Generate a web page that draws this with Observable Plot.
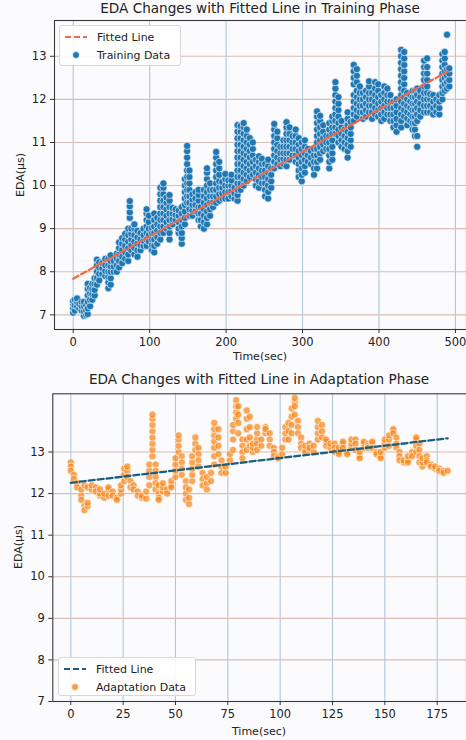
<!DOCTYPE html>
<html>
<head>
<meta charset="utf-8">
<script src="https://cdn.jsdelivr.net/npm/d3@7"></script>
<script src="https://cdn.jsdelivr.net/npm/@observablehq/plot@0.6"></script>
<style>
  html, body { margin: 0; padding: 0; background: #fbfbfd; }
  body { width: 466px; height: 740px; overflow: hidden; font-family: "DejaVu Sans", sans-serif; color: #222; }
  #wrap { position: relative; width: 466px; height: 740px; }
  .panel { position: absolute; left: 0; width: 466px; height: 370px; }
  .txt { position: absolute; white-space: nowrap; color: #222; }
  .title { font-size: 13.6px; line-height: 16px; text-align: center; }
  .xlab { font-size: 11px; text-align: center; }
  .ylab { font-size: 11px; transform: translate(-50%, -50%) rotate(-90deg); }
  .legend { position: absolute; border: 1px solid #d8d8d8; border-radius: 3px; background: rgba(255,255,255,0.85); font-size: 11px; }
  .legend .row { display: flex; align-items: center; height: 18px; }
  .legend svg { margin-left: 4px; margin-right: 9px; }
</style>
</head>
<body>
<div id="wrap"></div>
<script>
// ---------------- DATA ----------------
// Training phase: [time (sec), EDA values observed at that time]
const trainStreaks = [
  [0,[7.05,7.15,7.25,7.32]],
  [2,[7.1,7.22,7.35]],
  [5,[7.2,7.3,7.38]],
  [8,[7.15,7.25]],
  [11,[7.1,7.2,7.3]],
  [14,[6.98,7.08,7.2,7.3]],
  [17,[7.0,7.1,7.22]],
  [19,[7.02,7.15,7.3,7.45,7.6,7.72]],
  [22,[7.2,7.35,7.5,7.62]],
  [25,[7.35,7.48,7.6,7.72]],
  [28,[7.45,7.58,7.72,7.85]],
  [31,[7.7,7.85,8.0,8.15,8.28]],
  [34,[7.8,7.95,8.1,8.22]],
  [38,[7.95,8.08,8.2]],
  [42,[7.9,8.02,8.15,8.3]],
  [46,[7.62,7.75,7.88,8.0,8.15,8.3]],
  [49,[7.7,7.85,8.0,8.12,8.25,8.38]],
  [53,[8.0,8.12,8.25]],
  [57,[8.0,8.15,8.3,8.42]],
  [60,[8.1,8.25,8.4,8.55,8.68]],
  [64,[8.2,8.35,8.5,8.65,8.78]],
  [68,[8.3,8.45,8.6,8.75,8.88]],
  [72,[8.25,8.4,8.55,8.7,8.85,9.0]],
  [74,[9.25,9.38,9.52,9.64]],
  [76,[8.5,8.62,8.75,8.88,9.0]],
  [80,[8.4,8.55,8.7,8.85,9.0,9.1]],
  [84,[8.35,8.5,8.65,8.8,8.95]],
  [88,[8.5,8.62,8.75,8.9]],
  [92,[8.6,8.72,8.85,9.0]],
  [96,[8.6,8.75,8.9,9.05,9.2,9.35,9.45]],
  [99,[8.7,8.85,9.0,9.15,9.3]],
  [103,[8.5,8.62,8.75,8.9,9.02]],
  [106,[8.45,8.6,8.75,8.9,9.05,9.2,9.35]],
  [110,[8.65,8.8,8.95,9.1,9.25]],
  [114,[8.75,8.9,9.05,9.2,9.35,9.5,9.65,9.8,9.95]],
  [118,[8.9,9.05,9.2,9.35,9.5,9.65,9.8,9.95,10.05]],
  [122,[9.0,9.15,9.3,9.45,9.6,9.72]],
  [126,[8.75,8.9,9.05,9.2,9.35,9.5,9.65,9.78]],
  [130,[9.1,9.22,9.35,9.48]],
  [134,[9.2,9.32,9.45]],
  [138,[8.9,9.0,9.15,9.3,9.42]],
  [142,[8.65,8.78,8.9,9.05,9.2,9.35,9.5]],
  [146,[9.1,9.25,9.4,9.55,9.7,9.85,10.0,10.15]],
  [149,[9.6,9.75,9.9,10.05,10.2,10.35,10.5,10.65,10.8,10.92]],
  [152,[9.3,9.45,9.6,9.75,9.9,10.05,10.2,10.35]],
  [156,[9.3,9.42,9.55,9.68,9.8]],
  [160,[9.4,9.55,9.7,9.85]],
  [164,[9.2,9.35,9.5,9.65,9.78,9.9]],
  [167,[9.05,9.2,9.35,9.5]],
  [171,[9.0,9.15,9.3,9.45,9.6,9.75,9.9]],
  [175,[9.1,9.25,9.4,9.55,9.7,9.85,10.0,10.15,10.3,10.4]],
  [179,[9.3,9.45,9.6,9.75,9.9,10.05]],
  [183,[9.5,9.62,9.75,9.9]],
  [187,[9.6,9.75,9.9,10.05,10.2,10.35,10.5,10.65,10.78]],
  [191,[9.65,9.8,9.95,10.1,10.25,10.4,10.55]],
  [195,[9.7,9.82,9.95,10.08]],
  [199,[9.7,9.85,10.0,10.15,10.27]],
  [203,[9.7,9.85,10.0,10.12]],
  [207,[9.75,9.88,10.0,10.12,10.25]],
  [211,[9.7,9.82,9.95]],
  [215,[9.65,9.78,9.9,10.05,10.2,10.35,10.5,10.65,10.8,10.95,11.1,11.25,11.4]],
  [219,[9.9,10.05,10.2,10.35,10.5,10.65,10.8,10.95,11.1,11.25,11.38]],
  [223,[10.0,10.15,10.3,10.45,10.6,10.75,10.9,11.05,11.2,11.35,11.45]],
  [227,[10.1,10.25,10.4,10.55,10.7,10.85,11.0,11.15,11.3]],
  [231,[10.2,10.35,10.5,10.65,10.8,10.95,11.1]],
  [235,[10.25,10.4,10.55,10.7,10.85,11.0]],
  [239,[10.0,10.15,10.3,10.45,10.6]],
  [243,[9.95,10.1,10.25,10.4,10.55,10.68]],
  [247,[10.05,10.2,10.35,10.5,10.62]],
  [251,[9.75,9.9,10.05,10.2,10.35,10.5]],
  [255,[9.7,9.85,10.0,10.15,10.3,10.45,10.6]],
  [259,[9.95,10.1,10.25,10.4]],
  [263,[10.4,10.55,10.7,10.85,11.0,11.15,11.3,11.43]],
  [267,[10.5,10.65,10.8,10.95,11.1,11.25]],
  [271,[10.45,10.6,10.75,10.9]],
  [275,[10.5,10.62,10.75,10.9,11.05]],
  [279,[10.45,10.6,10.75,10.9,11.05,11.2,11.35,11.47]],
  [283,[10.6,10.75,10.9,11.05,11.2,11.35]],
  [287,[10.7,10.85,11.0,11.15]],
  [291,[10.55,10.7,10.85,11.0,11.15,11.3]],
  [295,[10.2,10.35,10.5,10.65,10.8,10.95,11.1]],
  [299,[10.1,10.25,10.4,10.55,10.7,10.85,11.0]],
  [303,[10.3,10.45,10.6,10.75,10.9,11.05]],
  [307,[10.55,10.7,10.85]],
  [311,[10.5,10.65,10.8]],
  [315,[10.25,10.4,10.55,10.7,10.85]],
  [319,[10.4,10.55,10.7,10.85,11.0,11.15,11.3,11.45,11.6,11.72]],
  [323,[10.6,10.75,10.9,11.05,11.2,11.35,11.5,11.62]],
  [327,[10.8,10.95,11.1,11.25,11.4]],
  [331,[10.85,11.0,11.15]],
  [335,[10.4,10.55,10.7,10.85,11.0,11.15,11.3,11.45]],
  [339,[10.6,10.75,10.9,11.05,11.2,11.35,11.5,11.6]],
  [343,[11.2,11.35,11.5,11.65,11.8,11.95,12.1,12.25,12.4]],
  [347,[11.0,11.15,11.3,11.45,11.6,11.75,11.9,12.05]],
  [351,[10.9,11.05,11.2,11.35,11.5]],
  [355,[10.85,11.0,11.15,11.3]],
  [359,[10.65,10.8,10.95,11.1,11.25,11.4,11.55,11.7]],
  [363,[10.9,11.05,11.2,11.35,11.48]],
  [367,[11.5,11.65,11.8,11.95,12.1,12.35,12.5,12.65,12.8]],
  [371,[11.6,11.75,11.9,12.05,12.2,12.4,12.55,12.7]],
  [375,[11.7,11.85,12.0,12.15,12.3]],
  [379,[11.55,11.7,11.85,12.0,12.15]],
  [383,[11.6,11.75,11.9,12.05,12.2]],
  [387,[11.7,11.85,12.0,12.15,12.3,12.42]],
  [391,[11.55,11.7,11.85,12.0,12.15]],
  [395,[11.65,11.8,11.95,12.1,12.25,12.4]],
  [399,[11.6,11.75,11.9,12.05,12.2,12.35]],
  [403,[11.5,11.65,11.8,11.95,12.1]],
  [407,[11.55,11.7,11.85,12.0,12.15,12.3]],
  [411,[11.65,11.8,11.95,12.1,12.25]],
  [415,[11.5,11.65,11.8,11.95,12.1]],
  [419,[11.35,11.5,11.65,11.8,11.95]],
  [423,[11.25,11.4,11.55,11.7,11.85,12.0]],
  [429,[11.35,11.5,11.65,11.8,11.95,12.1,12.25,12.4,12.55,12.7,12.85,13.0,13.15]],
  [433,[11.6,11.75,11.9,12.05,12.2,12.35,12.5,12.65,12.8,12.95,13.1]],
  [437,[11.4,11.55,11.7,11.85,12.0,12.15]],
  [441,[11.5,11.65,11.8,11.95,12.1]],
  [444,[11.3,11.45,11.6,11.75,11.9,12.05,12.2]],
  [447,[11.15,11.3,11.45,11.6,11.75,11.9,12.05,12.2]],
  [450,[10.9,11.15,11.5,11.65,11.8,11.95,12.1,12.25]],
  [454,[11.6,11.75,11.9,12.05,12.2]],
  [459,[11.7,11.85,12.0,12.15,12.3,12.45,12.6,12.75,12.9]],
  [463,[11.7,11.85,12.0,12.15,12.3,12.45,12.6,12.75,12.95]],
  [467,[11.7,11.85,12.0,12.12]],
  [471,[11.65,11.8,11.95,12.1]],
  [475,[11.7,11.85,12.0]],
  [479,[11.65,11.8,11.95,12.1]],
  [483,[12.0,12.15,12.3,12.45,12.6,12.75,12.9,13.05]],
  [486,[12.2,12.35,12.5,12.65,12.8,12.95,13.1]],
  [489,[12.25,12.4,12.55,12.7,13.5]],
  [492,[12.3,12.45,12.6,12.72]]
];

// Adaptation phase: [time (sec), EDA values]
const adaptStreaks = [
  [0,[12.75,12.65,12.55]],
  [1.5,[12.45,12.35]],
  [3,[12.25,12.15]],
  [5,[11.95,11.85,12.1]],
  [6.5,[11.7,11.6,12.2]],
  [8,[11.7,11.78,12.15]],
  [10,[12.1,12.2]],
  [12,[12.15,12.05]],
  [14,[11.95,12.0,12.1]],
  [16,[11.9,12.0]],
  [18,[11.95,12.1,12.15]],
  [20,[12.05,11.95]],
  [22,[11.9,11.85]],
  [24,[12.0,12.1,12.2]],
  [25.5,[12.3,12.45,12.6]],
  [27,[12.55,12.65,12.4]],
  [28.5,[12.3,12.15]],
  [30,[12.2,12.1]],
  [32,[12.05,11.95]],
  [34,[11.9,11.95]],
  [36,[11.88,12.05]],
  [37.5,[12.2,12.4,12.55,12.7]],
  [39,[12.9,13.05,13.2,13.35,13.5,13.65,13.8,13.9]],
  [40.5,[12.7,12.55,12.4,12.25,12.1]],
  [42,[12.0,11.9,11.85,12.2]],
  [44,[12.05,12.15,12.25]],
  [46,[12.1,12.0]],
  [48,[12.2,12.3,12.15]],
  [50,[12.4,12.55,12.7,12.85]],
  [51.5,[13.0,13.15,13.3,13.4]],
  [53,[12.9,12.75,12.6,12.45]],
  [55,[12.3,12.15,12.0,11.85]],
  [56.5,[11.75,11.9,12.1]],
  [58,[12.3,12.45,12.6,12.75,12.9]],
  [59.5,[13.05,13.2,13.35]],
  [61,[13.1,12.95,12.8,12.65]],
  [63,[12.5,12.35,12.2]],
  [65,[12.25,12.1,12.4]],
  [67,[12.3,12.5]],
  [68.5,[12.7,12.9,13.1,13.25,13.4,13.55,13.7]],
  [70.5,[13.55,13.35,13.15,12.95]],
  [72,[12.8,12.65,12.5]],
  [74,[12.5,12.65]],
  [76,[12.8,12.95]],
  [77.5,[13.05,13.3,13.5,13.65]],
  [79,[13.8,13.95,14.1,14.25]],
  [80,[14.1,13.9,13.7,13.45]],
  [82,[13.3,13.15,13.0,12.85]],
  [84,[13.05,13.3,13.55,13.8,14.0]],
  [85.5,[13.85,13.6,13.35,13.15]],
  [87,[13.0,13.1,13.2]],
  [89,[13.3,13.45,13.6,13.2,13.05]],
  [91,[13.15,13.3]],
  [93,[13.45,13.6,13.55]],
  [95,[13.45,13.3,13.15]],
  [97,[13.1,13.0,12.9]],
  [99,[12.9,12.85]],
  [101,[12.95,13.1]],
  [102.5,[13.3,13.45,13.6]],
  [104,[13.7,13.5,13.3]],
  [105.5,[13.45,13.65,13.85,14.05]],
  [107,[14.2,14.3,14.1,13.9]],
  [108.5,[13.75,13.6,13.45]],
  [110,[13.35,13.2,13.1]],
  [112,[13.05,13.0,13.15]],
  [114,[13.05,13.2,13.1]],
  [116,[13.0,13.15]],
  [118,[13.3,13.45,13.6,13.75]],
  [120,[13.65,13.5,13.35]],
  [122,[13.25,13.15,13.3]],
  [124,[13.1,13.2]],
  [126,[13.2,13.1,13.0]],
  [128,[13.0,12.95,13.1]],
  [130,[13.2,13.25,13.1]],
  [132,[13.0,12.95]],
  [134,[13.1,13.2,13.3]],
  [136,[13.3,13.2,13.05]],
  [138,[12.9,12.85,13.0]],
  [140,[13.1,13.2,13.25]],
  [142,[13.2,13.15,13.1]],
  [144,[13.2,13.25,13.1]],
  [146,[13.0,12.95]],
  [148,[12.9,12.85,13.0]],
  [150,[13.1,13.2,13.3]],
  [152,[13.15,13.3,13.4]],
  [154,[13.5,13.55,13.45]],
  [155.5,[13.35,13.2,13.1]],
  [157,[13.0,12.9,12.8]],
  [159,[12.75,12.8]],
  [161,[12.8,12.75,12.9]],
  [163,[13.0,12.9]],
  [165,[13.0,13.15,13.3,13.35]],
  [166.5,[13.2,13.05,12.9,12.75]],
  [168,[12.65,12.75,12.85]],
  [170,[12.9,12.8,12.75]],
  [172,[12.7,12.65]],
  [174,[12.6,12.65]],
  [176,[12.6,12.55]],
  [178,[12.55,12.5]],
  [180,[12.55]]
];

// Fitted lines (endpoints of the regression lines)
const fitTrainT = [0, 490];
const fitTrainV = [7.84, 12.65];
const fitAdaptT = [0, 180];
const fitAdaptV = [12.26, 13.33];

// Axis ticks
const trainXTicks = [0, 100, 200, 300, 400, 500];
const trainYTicks = [7, 8, 9, 10, 11, 12, 13];
const adaptXTicks = [0, 25, 50, 75, 100, 125, 150, 175];
const adaptYTicks = [7, 8, 9, 10, 11, 12, 13];

// Text
const titles = ["EDA Changes with Fitted Line in Training Phase", "EDA Changes with Fitted Line in Adaptation Phase"];
const xLabel = "Time(sec)";
const yLabel = "EDA(μs)";
const legendTrain = ["Fitted Line", "Training Data"];
const legendAdapt = ["Fitted Line", "Adaptation Data"];

// ---------------- BUILD ----------------
const flat = s => s.flatMap(([t, vs]) => vs.map(v => ({t, v})));
const trainData = flat(trainStreaks);
const adaptData = flat(adaptStreaks);
const fitTrain = fitTrainT.map((t, i) => ({t, v: fitTrainV[i]}));
const fitAdapt = fitAdaptT.map((t, i) => ({t, v: fitAdaptV[i]}));

const gridV = "#b2c7d6";
const gridH = "#d6bfb6";
const style = {fontFamily: "DejaVu Sans, sans-serif", fontSize: "11px", background: "transparent", color: "#222", overflow: "visible"};

function makePlot(o) {
  return Plot.plot({
    width: 466, height: 370,
    marginTop: o.mt, marginBottom: o.mb, marginLeft: o.ml, marginRight: 0,
    style,
    x: {domain: o.xd},
    y: {domain: o.yd},
    marks: [
      Plot.gridX(o.xt, {stroke: gridV, strokeOpacity: 1, strokeWidth: 1.1}),
      Plot.gridY(o.yt, {stroke: gridH, strokeOpacity: 1, strokeWidth: 1.1}),
      Plot.dot(o.data, {x: "t", y: "v", r: 3.6, fill: o.color, fillOpacity: o.fo, stroke: "white", strokeWidth: 0.6}),
      Plot.line(o.fit, {x: "t", y: "v", stroke: o.lineColor, strokeWidth: 2.3, strokeDasharray: "6,3"}),
      Plot.frame({stroke: "#3a3a3a", strokeWidth: 1.1}),
      Plot.axisX(o.xt, {tickSize: 4, tickPadding: 4, fontSize: 11.5, label: null, stroke: "#333"}),
      Plot.axisY(o.yt, {tickSize: 4, tickPadding: 4, fontSize: 11.5, label: null, stroke: "#333"})
    ]
  });
}

const wrap = document.getElementById("wrap");
function addPanel(top, svg) {
  const d = document.createElement("div");
  d.className = "panel"; d.style.top = top + "px";
  d.appendChild(svg); wrap.appendChild(d);
}
function addText(cls, text, css) {
  const d = document.createElement("div");
  d.className = "txt " + cls; d.textContent = text;
  Object.assign(d.style, css); wrap.appendChild(d);
}
function addLegend(css, labels, lineColor, dotColor, fo) {
  const d = document.createElement("div");
  d.className = "legend"; Object.assign(d.style, css);
  d.innerHTML =
    `<div class="row" style="margin-top:2px"><svg width="24" height="10"><line x1="1" y1="5" x2="23" y2="5" stroke="${lineColor}" stroke-width="2.2" stroke-dasharray="6,3"/></svg><span>${labels[0]}</span></div>` +
    `<div class="row"><svg width="24" height="10"><circle cx="12" cy="5" r="3.4" fill="${dotColor}" fill-opacity="${fo}" stroke="white" stroke-width="0.6"/></svg><span>${labels[1]}</span></div>`;
  wrap.appendChild(d);
}

addPanel(0, makePlot({mt: 20, mb: 41, ml: 54, xd: [-24.5, 514.5], yd: [6.66, 13.83], xt: trainXTicks, yt: trainYTicks,
  data: trainData, color: "#1f77b4", fo: 1, fit: fitTrain, lineColor: "#ef6a4c"}));
addPanel(370, makePlot({mt: 23.3, mb: 39, ml: 52.3, xd: [-8.6, 189], yd: [7, 14.4], xt: adaptXTicks, yt: adaptYTicks,
  data: adaptData, color: "#f7861a", fo: 0.72, fit: fitAdapt, lineColor: "#1b5f80"}));

addText("title", titles[0], {left: "54px", width: "412px", top: "0px"});
addText("xlab", xLabel, {left: "54px", width: "412px", top: "350px"});
addText("ylab", yLabel, {left: "20px", top: "175px"});
addText("title", titles[1], {left: "52px", width: "414px", top: "371px"});
addText("xlab", xLabel, {left: "52px", width: "414px", top: "725px"});
addText("ylab", yLabel, {left: "18px", top: "547px"});

addLegend({left: "59px", top: "25px", width: "120px", height: "39px"}, legendTrain, "#ef6a4c", "#1f77b4", 1);
addLegend({left: "58px", top: "657px", width: "136px", height: "37px"}, legendAdapt, "#1b5f80", "#f7861a", 0.8);
</script>
</body>
</html>
